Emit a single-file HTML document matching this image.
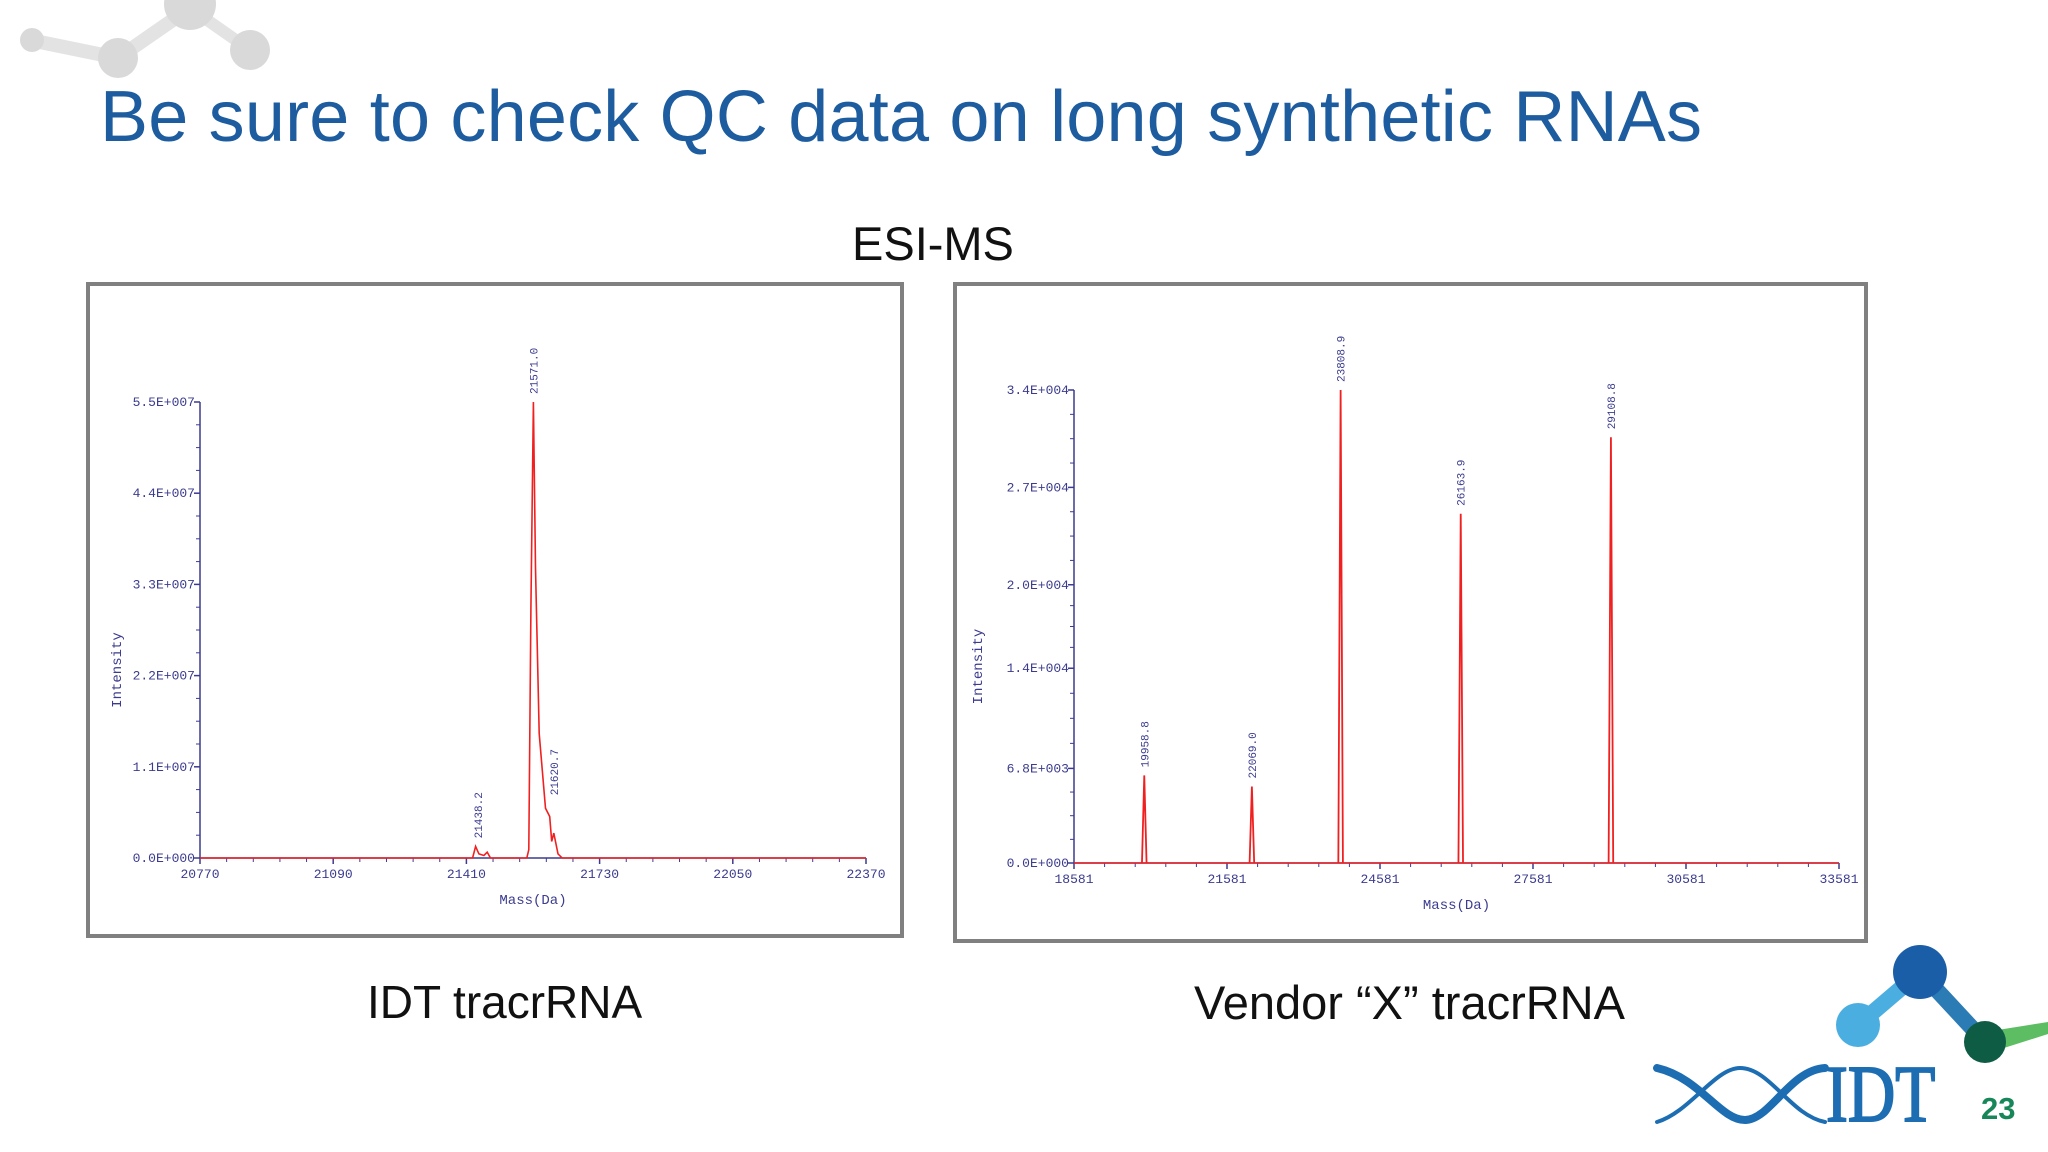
<!DOCTYPE html>
<html><head><meta charset="utf-8">
<style>
html,body{margin:0;padding:0;background:#fff;}
#root{position:relative;width:2048px;height:1152px;overflow:hidden;background:#fff;font-family:"Liberation Sans",sans-serif;}
.t{position:absolute;white-space:nowrap;}
</style></head>
<body>
<div id="root">
<svg width="2048" height="1152" style="position:absolute;left:0;top:0">
  <g fill="#d9d9d9" stroke="#e3e3e3">
    <line x1="30" y1="40" x2="118" y2="58" stroke-width="14"/>
    <line x1="118" y1="58" x2="190" y2="8" stroke-width="14"/>
    <line x1="190" y1="8" x2="250" y2="50" stroke-width="12"/>
    <circle cx="190" cy="4" r="26" stroke="none"/>
    <circle cx="118" cy="58" r="20" stroke="none"/>
    <circle cx="250" cy="50" r="20" stroke="none"/>
    <circle cx="32" cy="40" r="12" stroke="none"/>
  </g>
  <g>
    <line x1="1858" y1="1025" x2="1920" y2="972" stroke="#4aaee0" stroke-width="16"/>
    <line x1="1920" y1="972" x2="1985" y2="1042" stroke="#2b7bb5" stroke-width="16"/>
    <polygon points="1985,1032 2048,1022 2048,1034 1985,1054" fill="#5cbd62"/>
    <circle cx="1920" cy="972" r="27" fill="#1b5ea8"/>
    <circle cx="1858" cy="1025" r="22" fill="#4aaee0"/>
    <circle cx="1985" cy="1042" r="21" fill="#0f5c45"/>
  </g>
  <g fill="none" stroke="#1d6db3" stroke-linecap="round">
    <path d="M1657,1068 C1700,1078 1720,1120 1745,1120 C1770,1120 1790,1070 1825,1068" stroke-width="8"/>
    <path d="M1657,1122 C1690,1112 1715,1068 1740,1068 C1770,1068 1790,1115 1825,1122" stroke-width="4"/>
  </g>
</svg>

<div class="t" style="left:100px;top:76px;font-size:72px;color:#1d5c9f;letter-spacing:0.2px">Be sure to check QC data on long synthetic RNAs</div>
<div class="t" style="left:852px;top:216px;font-size:47px;color:#111">ESI-MS</div>
<div class="t" style="left:367px;top:975px;font-size:46px;color:#111">IDT tracrRNA</div>
<div class="t" style="left:1194px;top:975px;font-size:47px;color:#111">Vendor  “X” tracrRNA</div>
<div class="t" style="left:1826px;top:1050px;font-family:'Liberation Serif',serif;font-size:80px;color:#1d6db3;transform:scaleX(0.82);transform-origin:left top;line-height:90px;-webkit-text-stroke:2px #1d6db3">IDT</div>
<div class="t" style="left:1981px;top:1091px;font-size:31px;font-weight:bold;color:#17875a">23</div>

<svg id="chartL" width="2048" height="1152" style="position:absolute;left:0;top:0"></svg>
<svg id="chartR" width="2048" height="1152" style="position:absolute;left:0;top:0"></svg>
</div>

<script>
// ---- Left (IDT) spectrum data ----
const leftXTicks = [20770, 21090, 21410, 21730, 22050, 22370];
const leftYTicks = [0, 1.1e7, 2.2e7, 3.3e7, 4.4e7, 5.5e7];
const leftYLabels = ["0.0E+000","1.1E+007","2.2E+007","3.3E+007","4.4E+007","5.5E+007"];
const leftMass = [20770,21425,21432,21440,21452,21460,21468,21555,21560,21565,21571,21576,21585,21600,21610,21615,21620,21630,21640,22370];
const leftIntensity = [0,0,1.4e6,0.5e6,0.3e6,0.7e6,0,0,1e6,3e7,5.5e7,3.5e7,1.5e7,6e6,5e6,2e6,3e6,0.5e6,0,0];
const leftPeakLabels = ["21438.2","21571.0","21620.7"];
const leftPeakMass = [21438.2,21571.0,21620.7];
const leftPeakTop = [1.4e6,5.5e7,6.6e6];

// ---- Right (Vendor X) spectrum data ----
const rightXTicks = [18581, 21581, 24581, 27581, 30581, 33581];
const rightYTicks = [0, 6.8e3, 1.4e4, 2.0e4, 2.7e4, 3.4e4];
const rightYLabels = ["0.0E+000","6.8E+003","1.4E+004","2.0E+004","2.7E+004","3.4E+004"];
const rightPeakMass = [19958.8, 22069.0, 23808.9, 26163.9, 29108.8];
const rightPeakHeight = [6.3e3, 5.5e3, 3.4e4, 2.51e4, 3.06e4];
const rightPeakLabels = ["19958.8","22069.0","23808.9","26163.9","29108.8"];

const NS = "http://www.w3.org/2000/svg";
function mk(svg, tag, attrs, text){
  const e = document.createElementNS(NS, tag);
  for (const k in attrs) e.setAttribute(k, attrs[k]);
  if (text !== undefined) e.textContent = text;
  svg.appendChild(e);
  return e;
}

function drawChart(svg, cfg){
  const axis = "#3b3b8f";
  const box = mk(svg,"rect",{x:cfg.box[0],y:cfg.box[1],width:cfg.box[2],height:cfg.box[3],fill:"#fff",stroke:"#808080","stroke-width":4});
  
  
  const xs = v => cfg.x0 + (v - cfg.xmin)/(cfg.xmax-cfg.xmin)*(cfg.x1-cfg.x0);
  const ys = v => cfg.y0 - (v - cfg.ymin)/(cfg.ymax-cfg.ymin)*(cfg.y0-cfg.y1);
  const yAx = mk(svg,"line",{x1:cfg.x0,y1:cfg.y0,x2:cfg.x0,y2:cfg.y1,stroke:axis,"stroke-width":1.5});
  
  
  const xAx = mk(svg,"line",{x1:cfg.x0,y1:cfg.y0,x2:cfg.x1,y2:cfg.y0,stroke:axis,"stroke-width":1.5});
  
  
  const yt = cfg.yTicks;
  for (let i=0;i<yt.length;i++){
    const y = ys(yt[i]);
    mk(svg,"line",{x1:cfg.x0-6,y1:y,x2:cfg.x0,y2:y,stroke:axis,"stroke-width":1.5});
    const lb = mk(svg,"text",{x:cfg.x0-5,y:y+4,"text-anchor":"end","font-family":"Liberation Mono, monospace","font-size":13,fill:axis},cfg.yLabels[i]);
    
    
    if (i<yt.length-1){
      for (let k=1;k<4;k++){
        const ym = ys(yt[i] + (yt[i+1]-yt[i])*k/4);
        mk(svg,"line",{x1:cfg.x0-4,y1:ym,x2:cfg.x0,y2:ym,stroke:axis,"stroke-width":1});
      }
    }
  }
  const xt = cfg.xTicks;
  for (let i=0;i<xt.length;i++){
    const x = xs(xt[i]);
    mk(svg,"line",{x1:x,y1:cfg.y0,x2:x,y2:cfg.y0+6,stroke:axis,"stroke-width":1.5});
    const lb = mk(svg,"text",{x:x,y:cfg.y0+20,"text-anchor":"middle","font-family":"Liberation Mono, monospace","font-size":13,fill:axis},String(xt[i]));
    
    
    if (i<xt.length-1){
      for (let k=1;k<5;k++){
        const xm = xs(xt[i] + (xt[i+1]-xt[i])*k/5);
        mk(svg,"line",{x1:xm,y1:cfg.y0,x2:xm,y2:cfg.y0+4,stroke:axis,"stroke-width":1});
      }
    }
  }
  const xt2 = mk(svg,"text",{x:(cfg.x0+cfg.x1)/2,y:cfg.y0+46,"text-anchor":"middle","font-family":"Liberation Mono, monospace","font-size":14,fill:axis},"Mass(Da)");
  
  
  const yT = mk(svg,"text",{x:0,y:0,"text-anchor":"middle","font-family":"Liberation Mono, monospace","font-size":14,fill:axis,transform:`translate(${cfg.ytx},${(cfg.y0+cfg.y1)/2+40}) rotate(-90)`},"Intensity");
  
  
  return {xs, ys};
}

// Left chart
(function(){
  const svg = document.getElementById("chartL");
  const {xs, ys} = drawChart(svg,{box:[88,284,814,652],x0:200,x1:866,y0:858,y1:402,xmin:20770,xmax:22370,ymin:0,ymax:5.5e7,xTicks:leftXTicks,yTicks:leftYTicks,yLabels:leftYLabels,ytx:121});
  let d = "";
  for (let i=0;i<leftMass.length;i++) d += (i?"L":"M") + xs(leftMass[i]).toFixed(1) + "," + ys(leftIntensity[i]).toFixed(1);
  const p = mk(svg,"path",{d:d,fill:"none",stroke:"#f02020","stroke-width":1.6});
  
  
  for (let i=0;i<leftPeakLabels.length;i++){
    const x = xs(leftPeakMass[i]) + 4, y = ys(leftPeakTop[i]) - 8;
    const t = mk(svg,"text",{x:0,y:0,"font-family":"Liberation Mono, monospace","font-size":11,fill:"#3b3b8f",transform:`translate(${x},${y}) rotate(-90)`},leftPeakLabels[i]);
    
    
  }
})();

// Right chart
(function(){
  const svg = document.getElementById("chartR");
  const {xs, ys} = drawChart(svg,{box:[955,284,911,657],x0:1074,x1:1839,y0:863,y1:390,xmin:18581,xmax:33581,ymin:0,ymax:3.4e4,xTicks:rightXTicks,yTicks:rightYTicks,yLabels:rightYLabels,ytx:982});
  const base = mk(svg,"line",{x1:xs(18581),y1:ys(0),x2:xs(33581),y2:ys(0),stroke:"#f02020","stroke-width":1.5});
  
  
  for (let i=0;i<rightPeakMass.length;i++){
    const xc = xs(rightPeakMass[i]);
    const d = `M${xs(rightPeakMass[i]-45)},${ys(0)}L${xc},${ys(rightPeakHeight[i])}L${xs(rightPeakMass[i]+45)},${ys(0)}`;
    const p = mk(svg,"path",{d:d,fill:"none",stroke:"#f02020","stroke-width":1.8});
    
    
    const t = mk(svg,"text",{x:0,y:0,"font-family":"Liberation Mono, monospace","font-size":11,fill:"#3b3b8f",transform:`translate(${xc+4},${ys(rightPeakHeight[i])-8}) rotate(-90)`},rightPeakLabels[i]);
    
    
  }
})();
</script>
</body></html>
